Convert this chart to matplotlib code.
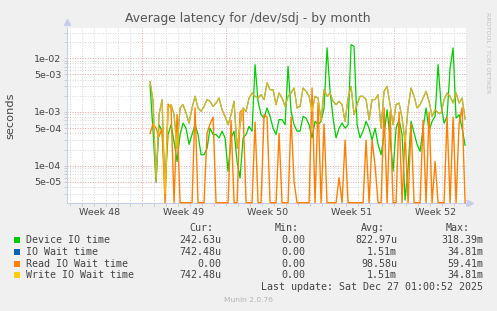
import numpy as np
import matplotlib.pyplot as plt
import matplotlib.transforms as mtransforms
from matplotlib.patches import Rectangle
from matplotlib.ticker import FixedLocator, NullFormatter

W, H = 497, 311

# one sample every 6 hours, first one ~6.9 days after the graph's left edge
first_day = 6.92
step_days = 0.25

device_ms = [3.2, 0.44, 0.05, 0.58, 0.44, 0.04, 0.38, 0.58, 0.28, 0.12, 0.38, 0.62, 0.50, 0.25,
             0.38, 0.58, 0.38, 0.16, 0.16, 0.21, 0.50, 0.38, 0.38, 0.33, 0.44, 0.33, 0.079,
             0.33, 0.44, 0.12, 0.059, 0.33, 0.38, 0.54, 0.44, 7.6, 1.58, 0.89, 0.77, 1.19,
             0.83, 0.50, 0.38, 0.72, 0.72, 0.58, 7.1, 1.03, 0.58, 0.44, 0.44, 0.83, 0.77,
             0.58, 0.33, 0.67, 0.58, 0.67, 1.19, 15.6, 2.43, 0.77, 0.33, 0.50, 0.62, 0.50,
             0.58, 17.9, 16.7, 0.58, 0.33, 0.44, 0.67, 0.50, 0.30, 0.50, 0.25, 0.16, 0.38, 1.10,
             0.33, 0.079, 0.50, 0.72, 0.38, 0.023, 0.091, 0.67, 0.41, 0.25, 0.185, 0.50, 1.19,
             0.44, 0.67, 0.83, 7.6, 1.37, 0.62, 0.83, 6.6, 15.6, 0.77, 0.89, 0.50, 0.24]
io_wait_ms = [3.7, 1.58, 0.05, 0.89, 1.70, 0.03, 1.19, 1.37, 0.89, 0.21, 1.19, 1.37, 0.96, 0.62,
              1.19, 1.96, 1.19, 1.03, 1.27, 1.70, 1.58, 1.27, 1.47, 1.82, 1.10, 0.83, 0.58,
              0.89, 1.58, 0.21, 0.58, 1.19, 1.03, 1.82, 2.26, 1.96, 1.82, 2.10, 1.70, 3.5,
              2.6, 2.6, 1.37, 2.26, 1.82, 1.27, 1.96, 2.26, 2.8, 1.19, 1.27, 2.8, 2.43,
              1.96, 1.03, 1.96, 1.82, 0.67, 2.6, 1.96, 2.26, 1.58, 1.37, 1.58, 1.37, 0.67,
              1.82, 3.0, 0.89, 1.37, 1.96, 1.96, 1.70, 0.72, 1.70, 1.70, 2.10, 0.50, 2.43, 3.0,
              1.37, 0.58, 1.37, 1.47, 0.77, 0.28, 1.19, 2.8, 1.96, 1.19, 1.37, 1.82, 2.43,
              1.58, 0.83, 1.10, 0.96, 0.96, 1.70, 2.26, 1.96, 1.47, 2.26, 1.47, 1.82, 0.74]
read_wait_ms = [0.4, 0.6, 0.5, 0.35, 0.5, 0, 1.4, 1.2, 0, 0.9, 0, 0, 0, 0,
                0, 1.2, 0, 0, 0, 0.4, 0.6, 0.8, 0, 0, 0, 0, 0,
                0.7, 0, 0, 1.0, 1.1, 0, 0, 0, 0.65, 0, 0, 0.9, 0.8,
                0, 0, 0, 0.4, 0, 0, 0, 0.8, 0.05, 0, 0, 0, 0,
                0, 2.8, 0, 1.5, 0, 0.6, 0, 0, 0, 0, 0.06, 0, 0.3,
                0, 0, 0, 0, 0, 0, 0.3, 0, 0.3, 0.1, 0, 0, 1.2, 0,
                1.0, 0, 0, 1.0, 0, 0.4, 0, 0.6, 0, 0, 0, 0.7, 0,
                1.0, 0, 0.12, 0, 0, 0, 0.8, 0, 0.8, 0, 0.6, 1.2, 0]
write_wait_ms = list(io_wait_ms)  # same numbers as IO Wait time in the source

span_days = 33.33
week_starts = [-0.78, 6.22, 13.22, 20.22, 27.22]
week_labels = ['Week 48', 'Week 49', 'Week 50', 'Week 51', 'Week 52']

ytick_vals = [1e-2, 5e-3, 1e-3, 5e-4, 1e-4, 5e-5]
ytick_labels = ['1e-02', '5e-03', '1e-03', '5e-04', '1e-04', '5e-05']
y_low, y_high = 2.05e-5, 3.66e-2

names = ['Device IO time', 'IO Wait time', 'Read IO Wait time', 'Write IO Wait time']
colors = ['#00cc00', '#0066b3', '#ff8000', '#ffcc00']
cur = ['242.63u', '742.48u', '0.00', '742.48u']
mins = ['0.00', '0.00', '0.00', '0.00']
avgs = ['822.97u', '1.51m', '98.58u', '1.51m']
maxs = ['318.39m', '34.81m', '59.41m', '34.81m']

txt = '#444444'


def px(x, y):
    return x / W, 1 - y / H


fig = plt.figure(figsize=(W / 100, H / 100), dpi=100, facecolor='#f0f0f0')
ax = fig.add_axes([67 / W, (H - 202.7) / H, 400 / W, 174.7 / H])
ax.set_facecolor('white')

t = first_day + step_days * np.arange(len(device_ms))
series = [device_ms, io_wait_ms, read_wait_ms, write_wait_ms]
# the yellow line sits right on top of the blue one, which tints it olive
styles = [(0.9, 1.0), (0.8, 1.0), (1.0, 1.0), (1.0, 0.8)]
for vals, c, (lw, a) in zip(series, colors, styles):
    v = np.array(vals) / 1000.0
    v = np.where(v > y_low, v, y_low)
    ax.plot(t, v, color=c, lw=lw, alpha=a, zorder=3, clip_on=False)

ax.set_yscale('log')
ax.set_ylim(y_low, y_high)
ax.set_xlim(0, span_days)

# grid: daily/log-minor in grey, weeks and labelled values in pale red
minor_y = [m * 10.0 ** k for k in range(-5, -1) for m in (2, 3, 4, 6, 7, 8, 9)]
ax.yaxis.set_major_locator(FixedLocator(ytick_vals))
ax.yaxis.set_minor_locator(FixedLocator(minor_y))
ax.yaxis.set_minor_formatter(NullFormatter())
ax.set_yticklabels(ytick_labels)
ax.xaxis.set_major_locator(FixedLocator([w for w in week_starts if w > 0]))
ax.xaxis.set_minor_locator(FixedLocator(np.arange(0.22, span_days, 1.0)))
ax.xaxis.set_major_formatter(NullFormatter())
dots = (0, (1, 1.6))
ax.grid(which='minor', color='#d6d6d6', ls=dots, lw=0.7)
ax.grid(which='major', color='#e4a0a0', ls=dots, lw=0.7)
ax.set_axisbelow(True)
ax.tick_params(which='both', length=2, width=0.6, color='#c8c8c8', labelsize=6.8,
               labelcolor=txt, pad=2)

for s in ['top', 'right']:
    ax.spines[s].set_visible(False)
for s in ['left', 'bottom']:
    ax.spines[s].set_color('#c8cdee')
    ax.spines[s].set_linewidth(0.8)
ax.plot([0], [1.035], marker='^', ms=4, color='#c8cdee', transform=ax.transAxes, clip_on=False)
ax.plot([1.008], [0], marker='>', ms=4, color='#c8cdee', transform=ax.transAxes, clip_on=False)

blend = mtransforms.blended_transform_factory(ax.transData, ax.transAxes)
for w, lab in zip(week_starts, week_labels):
    ax.text(w + 3.5, -9.5 / 174.7, lab, transform=blend, ha='center', va='center',
            fontsize=6.8, color=txt)

ax.set_ylabel('seconds', fontsize=8.2, color=txt)
ax.yaxis.set_label_coords((15.5 - 67) / 400, 0.5)

fig.text(*px(248, 18.5), 'Average latency for /dev/sdj - by month', ha='center', va='center',
         fontsize=8.9, color='#555555')
fig.text(*px(488.5, 53), 'RRDTOOL / TOBI OETIKER', rotation=270, ha='center', va='center',
         fontsize=4.6, color='#c0c0c0')

mono = dict(family='DejaVu Sans Mono', fontsize=7.2, color=txt, va='center')
for xr, head in zip([213, 299, 385, 470], ['Cur:', 'Min:', 'Avg:', 'Max:']):
    fig.text(*px(xr, 228), head, ha='right', **mono)
rows_y = [239.7, 251.7, 263.7, 275.3]
for i, yy in enumerate(rows_y):
    x0, y0 = px(14, yy + 3)
    fig.patches.append(Rectangle((x0, y0), 6 / W, 6 / H, transform=fig.transFigure,
                                 facecolor=colors[i], edgecolor='none'))
    fig.text(*px(26, yy), names[i], ha='left', **mono)
    for xr, col in zip([221, 305, 397, 483], [cur, mins, avgs, maxs]):
        fig.text(*px(xr, yy), col[i], ha='right', **mono)
fig.text(*px(483, 287.3), 'Last update: Sat Dec 27 01:00:52 2025', ha='right', **mono)
fig.text(*px(248, 300.5), 'Munin 2.0.76', ha='center', va='center', fontsize=5.4, color='#b4b4b4')

fig.savefig('out.png', dpi=100, facecolor=fig.get_facecolor())
